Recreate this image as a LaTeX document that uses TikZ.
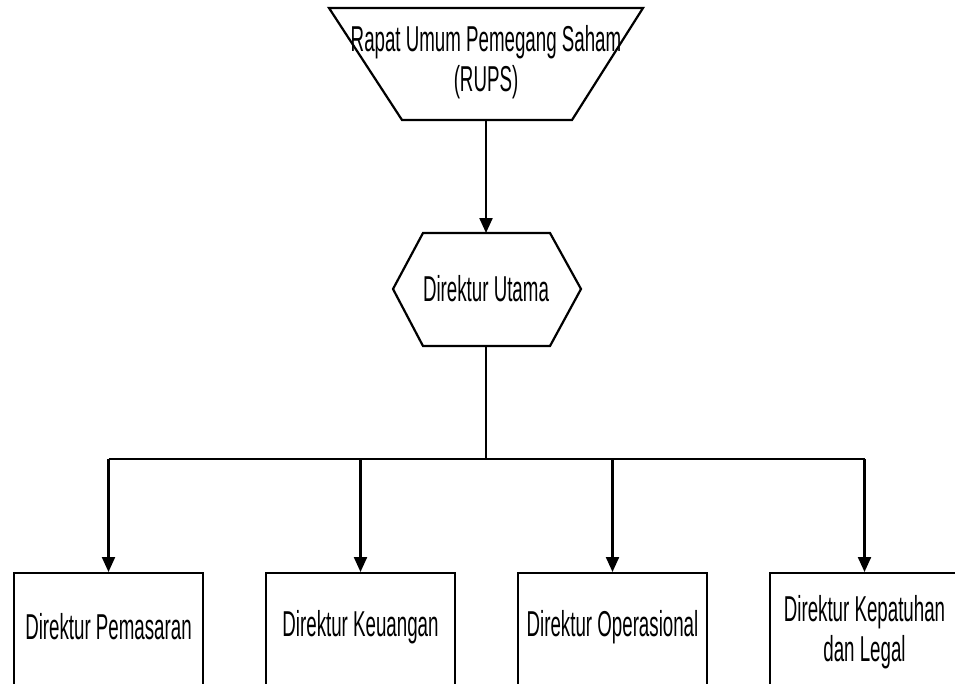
\documentclass[tikz,border=0pt]{standalone}
\usepackage{fontspec}
\setmainfont[FakeStretch=0.52]{Liberation Sans}
\usetikzlibrary{arrows.meta}
\begin{document}
\begin{tikzpicture}[x=1pt,y=-1pt,
  shapeline/.style={draw=black,line width=2.2pt,line join=miter},
  conn/.style={draw=black,line width=2.2pt,-{Triangle[length=15pt,width=13pt]}},
  bus/.style={draw=black,line width=2.2pt},
  lbl/.style={font=\fontsize{36}{40}\selectfont,align=center,inner sep=0pt},
  boxnode/.style={draw=black,line width=2.2pt,minimum width=189pt,minimum height=118pt,anchor=north,inner sep=0pt}]
\useasboundingbox (0,0) rectangle (955,683);
\clip (0,0) rectangle (955,683);
% RUPS trapezium
\draw[shapeline] (329,8) -- (643,8) -- (572,120) -- (402,120) -- cycle;
\coordinate (rupsb) at (486,120);
\node[lbl] (rups) at (486,62) {Rapat Umum Pemegang Saham\\(RUPS)};
% Direktur Utama hexagon
\draw[shapeline] (393,289) -- (423,233) -- (550,233) -- (581,289) -- (550,346) -- (423,346) -- cycle;
\coordinate (dut) at (486,233);
\coordinate (dub) at (486,346);
\node[lbl] (du) at (486,289) {Direktur Utama};
% boxes
\node[boxnode] (b1) at (108.5,572) {};
\node[boxnode] (b2) at (360.5,572) {};
\node[boxnode] (b3) at (612.5,572) {};
\node[boxnode] (b4) at (864.5,572) {};
\node[lbl] (t1) at (108.5,627) {Direktur Pemasaran};
\node[lbl] (t2) at (360.5,627) {Direktur Keuangan};
\node[lbl] (t3) at (612.5,627) {Direktur Operasional};
\node[lbl] (t4) at (864.5,632) {Direktur Kepatuhan\\dan Legal};
% connectors
\coordinate (hub) at (486,459);
\coordinate (h1) at (108.5,459);
\coordinate (h2) at (360.5,459);
\coordinate (h3) at (612.5,459);
\coordinate (h4) at (864.5,459);
\draw[conn] (rupsb) -- (dut);
\draw[bus] (dub) -- (hub);
\draw[bus] (h1) -- (h4);
\draw[conn] (h1) -- (b1.north);
\draw[conn] (h2) -- (b2.north);
\draw[conn] (h3) -- (b3.north);
\draw[conn] (h4) -- (b4.north);
\end{tikzpicture}
\end{document}
